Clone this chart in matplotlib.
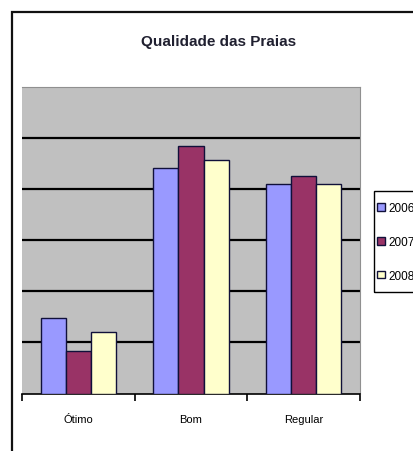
import numpy as np
import matplotlib
matplotlib.use("Agg")
import matplotlib.pyplot as plt
from matplotlib.patches import Rectangle

# data (percent of beaches per quality class)
categories = ["Ótimo", "Bom", "Regular"]
years = ["2006", "2007", "2008"]
v2006 = [14.7, 44.1, 40.9]
v2007 = [8.4, 48.3, 42.6]
v2008 = [12.1, 45.6, 40.9]
colors = ["#9999ff", "#993366", "#ffffcc"]

W, H = 413, 452
fig = plt.figure(figsize=(W / 100, H / 100), dpi=100)
fig.patch.set_facecolor("white")

# outer chart frame (runs off right / bottom edge)
frame = Rectangle((12 / W, 0 - 0.05), 1.2, 1 - 13 / H + 0.05, transform=fig.transFigure,
                  fill=False, edgecolor="#111111", linewidth=1.6)
fig.patches.append(frame)

# plot area
ax = fig.add_axes([22 / W, 1 - 394.5 / H, 338 / W, 307 / H])
ax.set_facecolor("#c0c0c0")

x = np.arange(len(categories))
bw = 0.222
allvals = [v2006, v2007, v2008]
for i, vals in enumerate(allvals):
    ax.bar(x + (i - 1) * bw, vals, width=bw, color=colors[i], edgecolor="#10103a",
           linewidth=1.0, label=years[i], zorder=3)

ax.set_xlim(-0.5, 2.5)
ax.set_ylim(0, 60)

# black gridlines
for g in [10, 20, 30, 40, 50]:
    ax.axhline(g, color="black", linewidth=1.6, zorder=1)

ax.set_yticks([])
ax.spines["left"].set_visible(False)
ax.spines["right"].set_color("#909090")
ax.spines["top"].set_color("#909090")
ax.spines["bottom"].set_color("black")
ax.spines["bottom"].set_linewidth(1.2)

ax.set_xticks([-0.5, 0.5, 1.5, 2.5])
ax.set_xticklabels([])
ax.tick_params(axis="x", which="major", length=5, width=1.2, direction="out")
ax.set_xticks(x, minor=True)
ax.set_xticklabels(categories, minor=True, fontsize=8, family="Liberation Sans")
ax.tick_params(axis="x", which="minor", length=0, pad=15)

# title
fig.text(219 / W, 1 - 42 / H, "Qualidade das Praias", ha="center", va="center",
         fontsize=11, fontweight="bold", family="Liberation Sans", color="#202030")

# legend box (runs off the right edge as in the original)
lbox = Rectangle((374 / W, 1 - 293 / H), 0.2, 101 / H, transform=fig.transFigure,
                 fill=False, edgecolor="black", linewidth=1.0)
fig.patches.append(lbox)

leg = fig.legend(loc="upper left", bbox_to_anchor=(377 / W, 1 - 203 / H),
                 frameon=False, handlelength=0.65, handleheight=0.65, handletextpad=0.35,
                 labelspacing=1.85, borderpad=0, borderaxespad=0,
                 prop={"family": "Liberation Sans", "size": 8.5})

fig.savefig("out.png", dpi=100)
